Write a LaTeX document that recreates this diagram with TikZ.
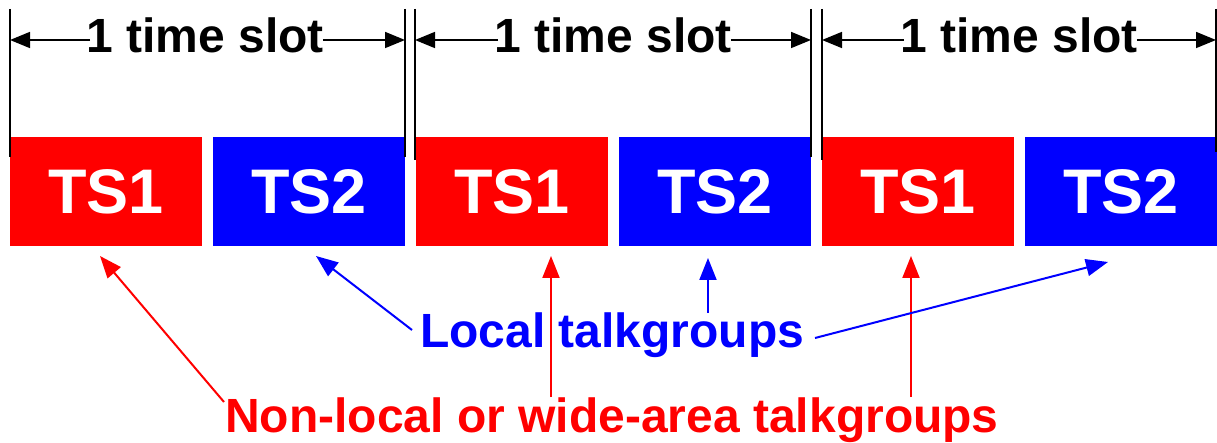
\documentclass[tikz,border=0pt]{standalone}
\usepackage{fontspec}
\setmainfont{Liberation Sans}
\usetikzlibrary{arrows.meta}
\definecolor{tsred}{RGB}{255,0,0}
\definecolor{tsblue}{RGB}{0,0,255}
\begin{document}
\begin{tikzpicture}[x=1pt,y=-1pt,
  slotbox/.style={anchor=north west,minimum width=192pt,minimum height=109pt,inner sep=0pt,text=white,font=\fontsize{63}{70}\selectfont\bfseries},
  redbox/.style={slotbox,fill=tsred},
  bluebox/.style={slotbox,fill=tsblue},
  bigtext/.style={font=\fontsize{48}{56}\selectfont\bfseries,inner sep=0pt},
  vline/.style={line width=2pt,black},
  dimarrow/.style={line width=1.6pt,black,-{Triangle[length=20pt,width=16pt]}},
  redarrow/.style={line width=2pt,tsred,-{Triangle[length=22pt,width=17pt]}},
  bluearrow/.style={line width=2pt,tsblue,-{Triangle[length=22pt,width=17pt]}}]
\useasboundingbox (0,0) rectangle (1217,443);
% boxes
\node[redbox]  (b1) at (10,137)   {TS1};
\node[bluebox] (b2) at (213,137)  {TS2};
\node[redbox]  (b3) at (416,137)  {TS1};
\node[bluebox] (b4) at (619,137)  {TS2};
\node[redbox]  (b5) at (822,137)  {TS1};
\node[bluebox] (b6) at (1025,137) {TS2};
% vertical boundary lines
\coordinate (v1t) at (10,9);    \coordinate (v1b) at (10,157);
\coordinate (v2t) at (405,9);   \coordinate (v2b) at (405,157);
\coordinate (v3t) at (415,9);   \coordinate (v3b) at (415,160);
\coordinate (v4t) at (811,9);   \coordinate (v4b) at (811,157);
\coordinate (v5t) at (822,9);   \coordinate (v5b) at (822,160);
\coordinate (v6t) at (1216,9);  \coordinate (v6b) at (1216,152);
\foreach \i in {1,...,6} \draw[vline] (v\i t) -- (v\i b);
% time slot labels
\node[bigtext,anchor=base] (s1) at (205,53) {1 time slot};
\node[bigtext,anchor=base] (s2) at (613,53) {1 time slot};
\node[bigtext,anchor=base] (s3) at (1019,53) {1 time slot};
\coordinate (d1) at (10,40);
\coordinate (d2) at (405,40);
\coordinate (d3) at (415,40);
\coordinate (d4) at (811,40);
\coordinate (d5) at (822,40);
\coordinate (d6) at (1216,40);
\draw[dimarrow] ([xshift=4pt]s1.west |- d1) -- (d1);
\draw[dimarrow] ([xshift=-1pt]s1.east |- d2) -- (d2);
\draw[dimarrow] ([xshift=4pt]s2.west |- d3) -- (d3);
\draw[dimarrow] ([xshift=-1pt]s2.east |- d4) -- (d4);
\draw[dimarrow] ([xshift=4pt]s3.west |- d5) -- (d5);
\draw[dimarrow] ([xshift=-1pt]s3.east |- d6) -- (d6);
% bottom labels
\node[bigtext,text=tsblue,anchor=base west] (loc) at (420,347) {Local talkgroups};
\node[bigtext,text=tsred,anchor=base west] (wide) at (225,432) {Non-local or wide-area talkgroups};
% arrow ends
\coordinate (r1s) at (224,402); \coordinate (r1e) at (100,256);
\coordinate (r2s) at (551,397); \coordinate (r2e) at (551,256);
\coordinate (r3s) at (911,397); \coordinate (r3e) at (911,256);
\coordinate (l1s) at (412,330); \coordinate (l1e) at (316,256);
\coordinate (l2s) at (708,313); \coordinate (l2e) at (708,258);
\coordinate (l3s) at (815,338); \coordinate (l3e) at (1108,262);
\draw[redarrow] (r1s) -- (r1e);
\draw[redarrow] (r2s) -- (r2e);
\draw[redarrow] (r3s) -- (r3e);
\draw[bluearrow] (l1s) -- (l1e);
\draw[bluearrow] (l2s) -- (l2e);
\draw[bluearrow] (l3s) -- (l3e);
\end{tikzpicture}
\end{document}
